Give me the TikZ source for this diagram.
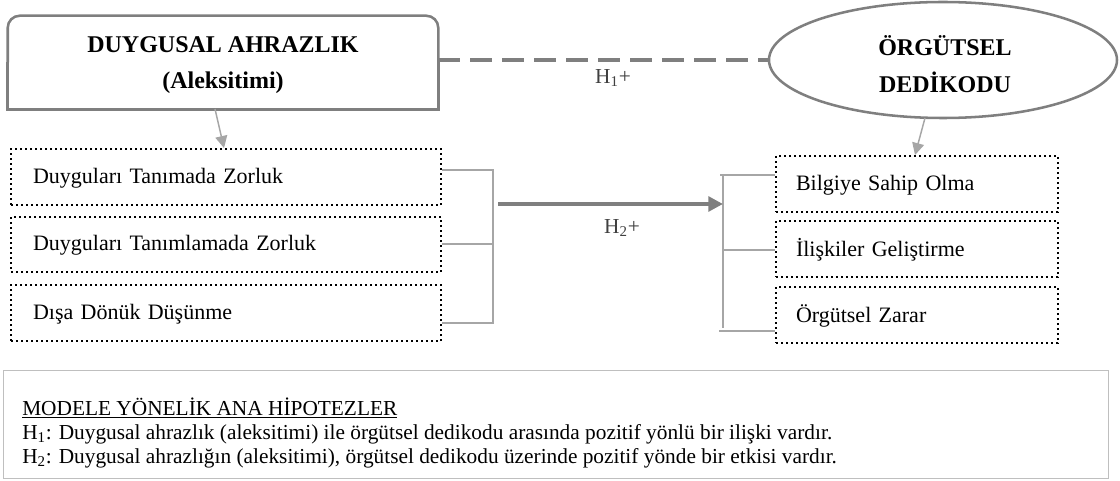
\documentclass[tikz,border=0pt]{standalone}
\usepackage{fontspec}
\setmainfont{Liberation Serif}
\usetikzlibrary{arrows.meta,shapes.geometric,calc}
\definecolor{framegray}{HTML}{7F7F7F}
\definecolor{linkgray}{HTML}{A6A6A6}
\definecolor{notegray}{HTML}{BFBFBF}
\definecolor{labelgray}{HTML}{404040}
\begin{document}
\begin{tikzpicture}[x=0.75pt,y=-0.75pt,
  headtxt/.style={font=\fontsize{18}{27.5}\selectfont\bfseries, align=center, inner sep=0pt},
  frameline/.style={draw=framegray, line width=1.9pt},
  dimbox/.style={draw=black, line width=1.5pt, dash pattern=on 1.5pt off 2.25pt,
    anchor=north west, inner ysep=0pt, minimum height=42pt, align=left,
    text depth=2pt, font=\fontsize{16.5}{19}\selectfont},
  leftdim/.style={dimbox, text width=289.5pt, inner xsep=16.5pt},
  rightdim/.style={dimbox, text width=181.5pt, inner xsep=15pt},
  bracket/.style={draw=linkgray, line width=1.5pt},
  pointer/.style={draw=linkgray, line width=1.1pt, -{Triangle[length=9pt,width=9pt]}},
  hlabel/.style={font=\fontsize{16}{19}\selectfont, text=labelgray, inner sep=0pt},
  notetxt/.style={font=\fontsize{16}{19}\selectfont, anchor=base west, inner sep=0pt}
]
\useasboundingbox (0,0) rectangle (1120,481);

% main constructs
\node[minimum width=322.5pt, minimum height=69.75pt, inner sep=0pt] (tb) at (223,62.5) {};
\node[headtxt] (tbtxt) at (223,65) {DUYGUSAL AHRAZLIK\\(Aleksitimi)};
\draw[frameline, rounded corners=9pt] (tb.west) -- (tb.north west) -- (tb.north east) -- (tb.east);
\draw[frameline] (tb.west) -- (tb.south west) -- (tb.south east) -- (tb.east);

\node[ellipse, frameline, minimum width=261pt, minimum height=87pt, inner sep=0pt] (el) at (943,60) {};
\node[headtxt] (eltxt) at (945,64) {ÖRGÜTSEL\\DEDİKODU};

% H1 correlation
\draw[draw=framegray, line width=3pt, dash pattern=on 16.5pt off 7.5pt] (tb.east |- el.west) -- (el.west);
\node[hlabel] (h1) at (613,78) {H\textsubscript{1}+};

% dimensions of alexithymia
\node[leftdim, minimum height=42pt] (b1) at (10,148) {Duyguları Tanımada Zorluk};
\node[leftdim, minimum height=41.25pt] (b2) at (10,216) {Duyguları Tanımlamada Zorluk};
\node[leftdim, minimum height=42pt] (b3) at (10,284) {Dışa Dönük Düşünme};

% dimensions of gossip
\node[rightdim] (r1) at (775,155) {Bilgiye Sahip Olma};
\node[rightdim] (r2) at (775,220) {İlişkiler Geliştirme};
\node[rightdim] (r3) at (775,286) {Örgütsel Zarar};

% pointers from constructs to their dimensions
\coordinate (p1) at (215,109);
\coordinate (q1) at (224,0);
\draw[pointer] (p1) -- (q1 |- b1.north);
\coordinate (p2) at (925,118);
\coordinate (q2) at (915,0);
\draw[pointer] (p2) -- (q2 |- r1.north);

% left bracket
\coordinate (lt) at (493,170);
\coordinate (lm) at (493,244);
\coordinate (lb) at (493,323);
\draw[bracket] (b1.east |- lt) -- (lt) -- (lb) -- (b3.east |- lb);
\draw[bracket] (b2.east |- lm) -- (lm);

% right bracket
\coordinate (rt) at (723,175);
\coordinate (rm) at (723,250);
\coordinate (rb) at (723,328);
\draw[bracket] (rt) -- (rb);
\draw[bracket] ([xshift=-2]rt) -- (r1.west |- rt);
\draw[bracket] (rm) -- (r2.west |- rm);
\draw[bracket] ([xshift=-3]rb) ++(0,3) -- (r3.west |- 0,331);

% H2 effect
\coordinate (ms) at (498,204);
\coordinate (me) at (723,204);
\draw[draw=framegray, line width=3pt, -{Triangle[length=11pt,width=11pt]}] (ms) -- (me);
\node[hlabel] (h2) at (622,228) {H\textsubscript{2}+};

% hypotheses
\node[draw=notegray, line width=1.1pt, anchor=north west, minimum width=828.75pt,
  minimum height=81pt, inner sep=0pt] (hyp) at (3,370) {};
\node[notetxt] (n0) at (22,415) {\underline{MODELE YÖNELİK ANA HİPOTEZLER}};
\node[notetxt] (n1) at (22,439) {H\textsubscript{1}: Duygusal ahrazlık (aleksitimi) ile örgütsel dedikodu arasında pozitif yönlü bir ilişki vardır.};
\node[notetxt] (n2) at (22,463) {H\textsubscript{2}: Duygusal ahrazlığın (aleksitimi), örgütsel dedikodu üzerinde pozitif yönde bir etkisi vardır.};
\end{tikzpicture}
\end{document}
